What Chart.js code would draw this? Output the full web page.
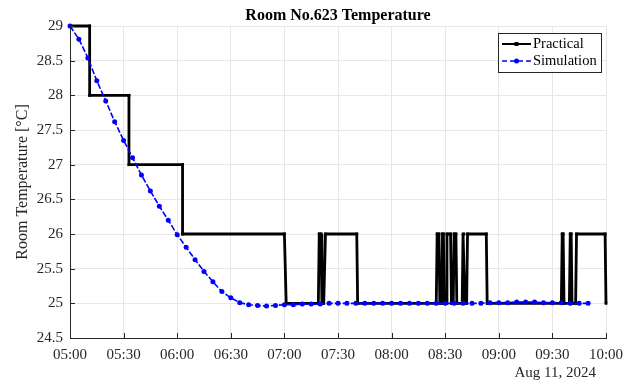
<!DOCTYPE html>
<html>
<head>
<meta charset="utf-8">
<script src="https://cdn.jsdelivr.net/npm/chart.js@4"></script>
<style>
  body { margin: 0; background: #fff; }
  canvas { display: block; }
</style>
</head>
<body>
<canvas id="tempChart" width="634" height="383"></canvas>
<script>
// Measured room temperature (logged on change), time as minutes after 05:00
const practicalTimes = [0, 11, 11, 33, 33, 63, 63, 120, 121, 139, 139.5, 140.5, 141, 142, 143, 160.5, 161,
  205, 205.5, 206.5, 207, 208, 208.5, 209, 209.5, 210.5, 211, 213, 213.5, 214.5, 215, 216, 216.5,
  219.5, 220, 220.5, 221, 222, 222.5, 233, 233.5, 275, 275.5, 276, 276.5, 279.5, 280, 280.5, 281,
  283, 283.5, 299.5, 300]
const practicalTemps = [29, 29, 28, 28, 27, 27, 26, 26, 25, 25, 26, 26, 25, 25, 26, 26, 25,
  25, 26, 26, 25, 25, 26, 26, 25, 25, 26, 26, 25, 25, 26, 26, 25,
  25, 26, 26, 25, 25, 26, 26, 25, 25, 26, 26, 25, 25, 26, 26, 25,
  25, 26, 26, 25]

// Simulated temperature, one sample every 5 minutes
const simTimes = ['05:00', '05:05', '05:10', '05:15', '05:20', '05:25', '05:30', '05:35', '05:40', '05:45',
  '05:50', '05:55', '06:00', '06:05', '06:10', '06:15', '06:20', '06:25', '06:30', '06:35',
  '06:40', '06:45', '06:50', '06:55', '07:00', '07:05', '07:10', '07:15', '07:20', '07:25',
  '07:30', '07:35', '07:40', '07:45', '07:50', '07:55', '08:00', '08:05', '08:10', '08:15',
  '08:20', '08:25', '08:30', '08:35', '08:40', '08:45', '08:50', '08:55', '09:00', '09:05',
  '09:10', '09:15', '09:20', '09:25', '09:30', '09:35', '09:40', '09:45', '09:50']
const simTemps = [29.00, 28.81, 28.54, 28.21, 27.92, 27.62, 27.35, 27.10, 26.85, 26.62,
  26.40, 26.20, 25.99, 25.81, 25.63, 25.46, 25.31, 25.17, 25.08, 25.01,
  24.98, 24.97, 24.96, 24.97, 24.98, 24.98, 24.99, 24.99, 24.99, 25.00,
  25.00, 25.00, 25.00, 25.00, 25.00, 25.00, 25.00, 25.00, 25.00, 25.00,
  25.00, 25.00, 25.00, 25.00, 25.00, 25.00, 25.00, 25.01, 25.01, 25.01,
  25.02, 25.02, 25.02, 25.01, 25.01, 25.01, 25.00, 25.00, 25.00]

const xTickLabels = ['05:00', '05:30', '06:00', '06:30', '07:00', '07:30', '08:00', '08:30', '09:00', '09:30', '10:00']
const yTickValues = [24.5, 25, 25.5, 26, 26.5, 27, 27.5, 28, 28.5, 29]

const toMinutes = s => {
  const [h, m] = s.split(':').map(Number)
  return (h - 5) * 60 + m
}

const serif = 'Liberation Serif, Times New Roman, serif'
const axisColor = '#262626'

// title, axis captions, legend box and inward tick marks (MATLAB look)
const decorations = {
  id: 'decorations',
  afterDraw(chart) {
    const c = chart.ctx
    const { left, right, top, bottom } = chart.chartArea
    const xs = chart.scales.x, ys = chart.scales.y
    c.save()

    c.strokeStyle = axisColor
    c.lineWidth = 1
    c.beginPath()
    xs.ticks.forEach(t => {
      const px = Math.round(xs.getPixelForValue(t.value)) + 0.5
      c.moveTo(px, bottom); c.lineTo(px, bottom - 5)
    })
    ys.ticks.forEach(t => {
      const py = Math.round(ys.getPixelForValue(t.value)) + 0.5
      c.moveTo(left, py); c.lineTo(left + 5, py)
    })
    c.stroke()

    c.fillStyle = '#000'
    c.font = 'bold 16px ' + serif
    c.textAlign = 'center'
    c.textBaseline = 'middle'
    c.fillText('Room No.623 Temperature', (left + right) / 2, 16)

    c.fillStyle = axisColor
    c.font = '15px ' + serif
    c.textAlign = 'right'
    c.fillText('Aug 11, 2024', 596, 373)

    c.save()
    c.translate(23, (top + bottom) / 2)
    c.rotate(-Math.PI / 2)
    c.textAlign = 'center'
    c.font = '16px ' + serif
    c.fillText('Room Temperature [°C]', 0, 0)
    c.restore()

    // legend
    c.fillStyle = '#fff'
    c.fillRect(498.5, 33.5, 103, 39)
    c.strokeStyle = axisColor
    c.lineWidth = 1
    c.strokeRect(498.5, 33.5, 103, 39)

    c.strokeStyle = '#000'
    c.lineWidth = 2
    c.beginPath(); c.moveTo(502, 44); c.lineTo(531, 44); c.stroke()
    c.fillStyle = '#000'
    c.fillRect(514.5, 42, 4, 4)

    c.strokeStyle = '#0000ff'
    c.lineWidth = 1.5
    c.setLineDash([5, 3])
    c.beginPath(); c.moveTo(502, 61); c.lineTo(531, 61); c.stroke()
    c.setLineDash([])
    c.fillStyle = '#0000ff'
    c.beginPath(); c.arc(516.5, 61, 2.5, 0, Math.PI * 2); c.fill()

    c.fillStyle = '#000'
    c.font = '14.5px ' + serif
    c.textAlign = 'left'
    c.fillText('Practical', 533, 44)
    c.fillText('Simulation', 533, 61)
    c.restore()
  }
}

const ctx = document.getElementById('tempChart').getContext('2d')

const data = {
  datasets: [
    {
      label: 'Practical',
      data: practicalTimes.map((t, i) => ({ x: t, y: practicalTemps[i] })),
      borderColor: '#000',
      backgroundColor: '#000',
      borderWidth: 2.8,
      pointStyle: 'rect',
      pointRadius: 2,
      pointBorderWidth: 0,
      tension: 0,
      order: 1,
    },
    {
      label: 'Simulation',
      data: simTimes.map((t, i) => ({ x: toMinutes(t), y: simTemps[i] })),
      borderColor: '#0000ff',
      backgroundColor: '#0000ff',
      borderWidth: 1.6,
      borderDash: [6, 2],
      pointStyle: 'circle',
      pointRadius: 2.5,
      pointBorderWidth: 0,
      tension: 0,
      order: 0,
    },
  ],
}

const config = {
  type: 'line',
  data: data,
  options: {
    responsive: false,
    animation: false,
    clip: 4,
    layout: { padding: { top: 26, right: 28, left: 0, bottom: 0 } },
    plugins: {
      legend: { display: false },
      tooltip: { enabled: false },
    },
    scales: {
      x: {
        type: 'linear',
        min: 0,
        max: 300,
        afterFit: s => { s.height = 45 },
        afterBuildTicks: s => { s.ticks = xTickLabels.map(l => ({ value: toMinutes(l) })) },
        ticks: {
          callback: (v, i) => xTickLabels[i],
          font: { family: serif, size: 15 },
          color: axisColor,
          padding: 8,
          maxRotation: 0,
          autoSkip: false,
        },
        grid: { color: '#e6e6e6', drawTicks: false },
        border: { color: axisColor },
      },
      y: {
        min: 24.5,
        max: 29,
        afterFit: s => { s.width = 70 },
        afterBuildTicks: s => { s.ticks = yTickValues.map(v => ({ value: v })) },
        ticks: {
          callback: v => String(v),
          font: { family: serif, size: 15 },
          color: axisColor,
          padding: 7,
        },
        grid: { color: '#e6e6e6', drawTicks: false },
        border: { color: axisColor },
      },
    },
  },
  plugins: [decorations],
}

const myChart = new Chart(ctx, config)
</script>
</body>
</html>
